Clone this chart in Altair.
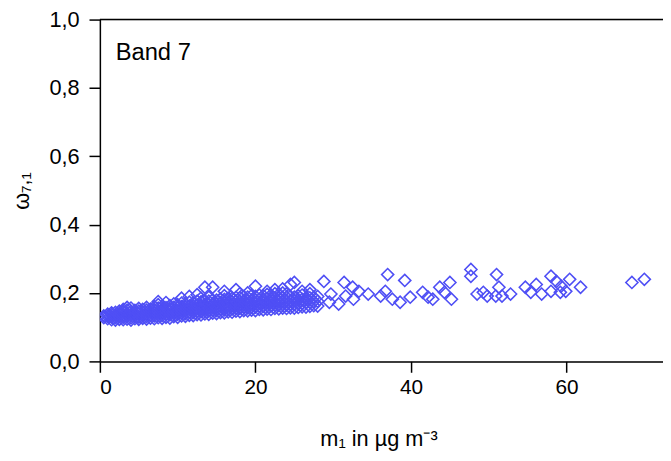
import altair as alt
import pandas as pd

# Dense band (x column, y values)
band_x = [0.5, 1.0, 1.5, 2.0, 2.5, 3.0, 3.5, 4.0, 4.5, 5.0, 5.5, 6.0, 6.5, 7.0, 7.5,
          8.0, 8.5, 9.0, 9.5, 10.0, 10.5, 11.0, 11.5, 12.0, 12.5, 13.0, 13.5, 14.0,
          14.5, 15.0, 15.5, 16.0, 16.5, 17.0, 17.5, 18.0, 18.5, 19.0, 19.5, 20.0,
          20.5, 21.0, 21.5, 22.0, 22.5, 23.0, 23.5, 24.0, 24.5, 25.0, 25.5, 26.0,
          26.5, 27.0, 27.5, 28.0, 28.8]
band_y = [
    [0.128, 0.133],
    [0.125, 0.132, 0.138],
    [0.122, 0.130, 0.137, 0.142],
    [0.121, 0.128, 0.135, 0.143],
    [0.123, 0.131, 0.139, 0.147],
    [0.122, 0.129, 0.136, 0.145, 0.152],
    [0.124, 0.132, 0.140, 0.150, 0.158],
    [0.121, 0.128, 0.137, 0.146, 0.156],
    [0.125, 0.133, 0.141, 0.149],
    [0.123, 0.130, 0.139, 0.147, 0.155],
    [0.126, 0.134, 0.143, 0.152],
    [0.124, 0.131, 0.140, 0.150, 0.158],
    [0.127, 0.136, 0.145, 0.153],
    [0.125, 0.133, 0.142, 0.151, 0.160],
    [0.128, 0.137, 0.146, 0.156, 0.166, 0.175],
    [0.126, 0.134, 0.143, 0.152, 0.161],
    [0.129, 0.138, 0.147, 0.157, 0.172],
    [0.127, 0.136, 0.145, 0.154, 0.163],
    [0.131, 0.140, 0.149, 0.158, 0.168],
    [0.129, 0.138, 0.147, 0.156, 0.166],
    [0.133, 0.142, 0.151, 0.160, 0.170, 0.185],
    [0.132, 0.140, 0.149, 0.158, 0.168],
    [0.135, 0.144, 0.153, 0.162, 0.173, 0.190],
    [0.134, 0.143, 0.152, 0.161, 0.171],
    [0.137, 0.146, 0.155, 0.165, 0.176, 0.195],
    [0.136, 0.145, 0.154, 0.163, 0.174, 0.185],
    [0.139, 0.148, 0.157, 0.167, 0.178, 0.217],
    [0.138, 0.147, 0.156, 0.166, 0.176, 0.188],
    [0.141, 0.150, 0.159, 0.169, 0.180, 0.217],
    [0.140, 0.149, 0.158, 0.168, 0.179],
    [0.143, 0.152, 0.162, 0.172, 0.183],
    [0.142, 0.151, 0.160, 0.170, 0.181, 0.192, 0.205],
    [0.145, 0.154, 0.164, 0.174, 0.185],
    [0.144, 0.153, 0.163, 0.173, 0.184],
    [0.147, 0.156, 0.166, 0.176, 0.187, 0.210],
    [0.146, 0.155, 0.165, 0.175, 0.186, 0.198],
    [0.149, 0.158, 0.168, 0.178, 0.190],
    [0.148, 0.157, 0.167, 0.177, 0.188, 0.200],
    [0.150, 0.160, 0.170, 0.180, 0.192],
    [0.149, 0.159, 0.169, 0.179, 0.190, 0.220],
    [0.152, 0.162, 0.172, 0.182, 0.194],
    [0.151, 0.161, 0.171, 0.181, 0.192],
    [0.153, 0.163, 0.173, 0.184, 0.196, 0.205],
    [0.152, 0.162, 0.172, 0.183, 0.194],
    [0.155, 0.165, 0.175, 0.186, 0.198, 0.210],
    [0.154, 0.164, 0.174, 0.185, 0.196],
    [0.156, 0.166, 0.176, 0.188, 0.200, 0.212],
    [0.155, 0.165, 0.175, 0.187, 0.198],
    [0.157, 0.167, 0.178, 0.190, 0.225],
    [0.156, 0.166, 0.177, 0.188, 0.231],
    [0.158, 0.169, 0.180, 0.192],
    [0.160, 0.170, 0.181, 0.194, 0.205],
    [0.159, 0.172, 0.184],
    [0.161, 0.173, 0.186, 0.198, 0.210],
    [0.163, 0.175, 0.188],
    [0.162, 0.176, 0.190],
    [0.234],
]

# Sparse points at higher concentrations
sparse_x = [29.7, 29.5, 30.7, 31.4, 31.6, 32.5, 33.3, 32.6, 34.5, 37.0, 39.2, 36.1,
            36.7, 37.6, 38.6, 39.9, 41.5, 42.2, 42.8, 43.7, 45.0, 44.3, 45.2, 47.7,
            47.7, 48.5, 49.3, 49.8, 51.0, 51.3, 50.9, 51.7, 52.8, 54.7, 55.4, 56.1,
            56.8, 58.0, 58.7, 59.3, 60.4, 59.9, 59.2, 58.0, 61.8, 68.4, 70.0]
sparse_y = [0.197, 0.173, 0.168, 0.231, 0.191, 0.217, 0.205, 0.182, 0.197, 0.254,
            0.237, 0.191, 0.205, 0.182, 0.173, 0.188, 0.202, 0.188, 0.182, 0.217,
            0.231, 0.202, 0.182, 0.269, 0.249, 0.197, 0.202, 0.191, 0.254, 0.217,
            0.191, 0.191, 0.197, 0.217, 0.202, 0.225, 0.197, 0.249, 0.234, 0.220,
            0.240, 0.205, 0.202, 0.205, 0.217, 0.231, 0.240]

xs, ys = [], []
for bx, col in zip(band_x, band_y):
    for v in col:
        xs.append(bx)
        ys.append(v)
xs += sparse_x
ys += sparse_y
df = pd.DataFrame({"m": xs, "w": ys})

x_ticks = [0, 20, 40, 60]
y_ticks = [0.0, 0.2, 0.4, 0.6, 0.8, 1.0]

FONT = "Liberation Sans"
xscale = alt.Scale(domain=[0, 72.4], nice=False, zero=False)
yscale = alt.Scale(domain=[0, 1], nice=False)

points = alt.Chart(df).mark_point(
    shape="diamond", filled=False, size=150, strokeWidth=1.6, color="#4f4ff5", opacity=1,
    clip=True,
).encode(
    x=alt.X("m:Q", scale=xscale, axis=alt.Axis(
        values=x_ticks, title="m₁ in µg m⁻³", grid=False, tickSize=11,
        domainColor="black", tickColor="black", domainWidth=1.5, tickWidth=1.5,
        labelFont=FONT, labelFontSize=21, labelColor="black", labelPadding=4,
        titleFont=FONT, titleFontSize=22, titleFontWeight="normal", titleColor="black",
        titleY=85, titleBaseline="alphabetic", titleX=282,
    )),
    y=alt.Y("w:Q", scale=yscale, axis=alt.Axis(
        values=y_ticks, title="ω₇,₁", grid=False, tickSize=11,
        labelExpr="replace(format(datum.value, '.1f'), '.', ',')",
        domainColor="black", tickColor="black", domainWidth=1.5, tickWidth=1.5,
        labelFont=FONT, labelFontSize=22, labelColor="black", labelPadding=10,
        titleFont=FONT, titleFontSize=22, titleFontWeight="normal", titleColor="black",
        titleAngle=-90, titleX=-79, titleY=173, titleBaseline="middle", titleAlign="center",
    )),
)

top_line = alt.Chart(pd.DataFrame({"t": [1.0]})).mark_rule(
    color="black", strokeWidth=1.5
).encode(y=alt.Y("t:Q", scale=yscale))

label = alt.Chart(pd.DataFrame({"s": ["Band 7"]})).mark_text(
    align="left", baseline="alphabetic", font=FONT, fontSize=24, color="black"
).encode(x=alt.value(16), y=alt.value(41), text="s:N")

chart = alt.layer(top_line, points, label).properties(
    width=570, height=346,
    autosize=alt.AutoSizeParams(type="none"),
    padding={"left": 93, "top": 9, "right": 0, "bottom": 90},
).configure_view(stroke=None).configure(background="white")

chart.save("out.html", embed_options={"renderer": "svg", "actions": False})
